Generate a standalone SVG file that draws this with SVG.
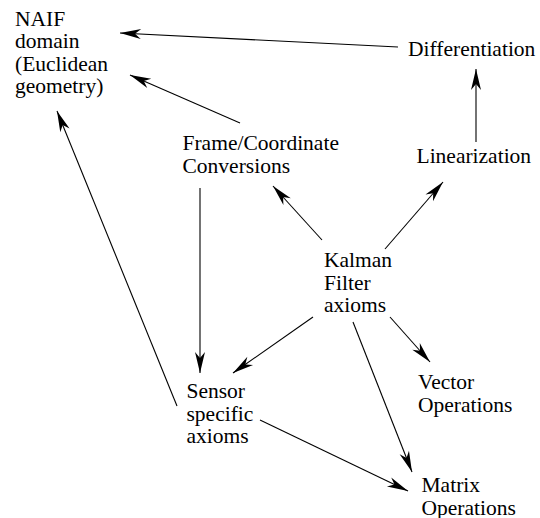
<svg xmlns="http://www.w3.org/2000/svg" width="540" height="518" viewBox="0 0 540 518">
<style>
text{font-family:"Liberation Serif","Times New Roman",serif;font-size:21.5px;fill:#000}
.c line{stroke:#000;stroke-width:1.1;fill:none;marker-end:url(#ah)}
</style>
<defs>
<marker id="ah" markerUnits="userSpaceOnUse" viewBox="-22 -6 23 12" markerWidth="23" markerHeight="12" refX="0" refY="0" orient="auto">
<path d="M0,0 L-21,-5 L-15,0 L-21,5 Z" fill="#000"/>
</marker>
</defs>
<rect width="540" height="518" fill="#fff"/>
<g class="c" id="connectors">
<line x1="398" y1="47" x2="120" y2="33"/>
<line x1="240" y1="123" x2="130" y2="75"/>
<line x1="476" y1="142" x2="476" y2="69"/>
<line x1="177" y1="406" x2="57" y2="111"/>
<line x1="200" y1="188" x2="200" y2="373"/>
<line x1="322" y1="240" x2="273" y2="186"/>
<line x1="385" y1="249" x2="443" y2="182"/>
<line x1="313" y1="317" x2="233" y2="373"/>
<line x1="353" y1="322" x2="412" y2="472"/>
<line x1="390" y1="317" x2="430" y2="362"/>
<line x1="260" y1="420" x2="408" y2="491"/>
</g>
<g id="naif"><text x="15" y="25.5">NAIF</text><text x="15" y="48">domain</text><text x="15" y="70.7">(Euclidean</text><text x="15" y="93.4">geometry)</text></g>
<g id="differentiation"><text x="408" y="56">Differentiation</text></g>
<g id="frame"><text x="182.5" y="150">Frame/Coordinate</text><text x="182.5" y="173">Conversions</text></g>
<g id="linearization"><text x="416.5" y="163">Linearization</text></g>
<g id="kalman"><text x="324" y="267">Kalman</text><text x="324" y="289.5">Filter</text><text x="324" y="312">axioms</text></g>
<g id="sensor"><text x="186.5" y="398">Sensor</text><text x="186.5" y="420.5">specific</text><text x="186.5" y="443">axioms</text></g>
<g id="vector"><text x="418" y="389">Vector</text><text x="418" y="412">Operations</text></g>
<g id="matrix"><text x="421.5" y="492">Matrix</text><text x="421.5" y="514.5">Operations</text></g>
</svg>
